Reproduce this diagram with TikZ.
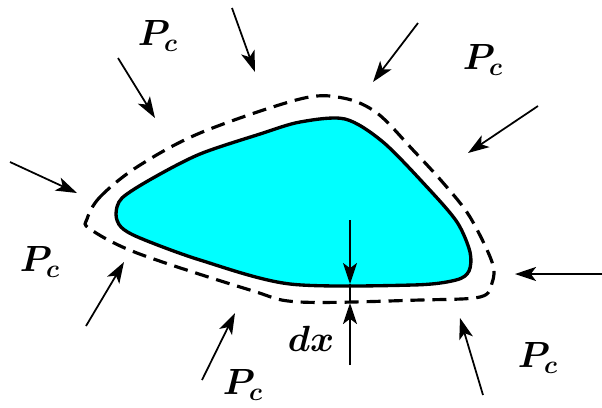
\documentclass[tikz,border=0pt]{standalone}
\usetikzlibrary{arrows.meta}
\definecolor{bodycyan}{RGB}{0,255,255}
\tikzset{
  lbl/.style={font=\fontsize{21}{24}\selectfont\boldmath},
  force/.style={->, line width=1pt}
}
\begin{document}
\begin{tikzpicture}[>={Stealth[length=12pt,width=8pt,inset=3pt]}, x=.02cm, y=-.02cm]
\useasboundingbox (0,0) rectangle (602,407);
% body
\draw[line width=1.9pt, fill=bodycyan] plot[smooth cycle, tension=.5] coordinates{
 (116,214) (122,198) (153,178) (200,154) (260,134) (300,122) (345,119)
 (383,142) (427,187) (457,222) (470,252) (469,271) (456,280) (413,285)
 (290,284) (200,260) (140,238) (121,227)};
% layer dx
\draw[line width=1.8pt, dash pattern=on 8pt off 4.5pt] plot[smooth cycle, tension=.55] coordinates{
 (87,219) (100,197) (137,167) (200,133) (300,99) (343,98) (377,113)
 (413,150) (445,185) (470,217) (492,262) (492,283) (480,297) (420,300)
 (300,302) (250,290) (137,253) (90,229)};
% pressure
\draw[force](10,162)--(77,193);
\draw[force](118,58)--(155,118);
\draw[force](232,8)--(255,72);
\draw[force](418,23)--(373,82);
\draw[force](538,106)--(468,153);
\draw[force](602,274)--(515,274);
\draw[force](483,395)--(460,318);
\draw[force](86,326)--(124,262);
\draw[force](202,380)--(235,313);
\draw[force](350,220)--(350,284);
\draw[force](350,365)--(350,303);
\draw[line width=1pt](350,284)--(350,303);
\node[lbl] (pc1) at (158,36) {$P_c$};
\node[lbl] (pc2) at (483,60) {$P_c$};
\node[lbl] (pc3) at (40,262) {$P_c$};
\node[lbl] (pc4) at (243,385) {$P_c$};
\node[lbl] (pc5) at (538,358) {$P_c$};
\node[lbl] (dx) at (311,339) {$dx$};
\end{tikzpicture}
\end{document}
